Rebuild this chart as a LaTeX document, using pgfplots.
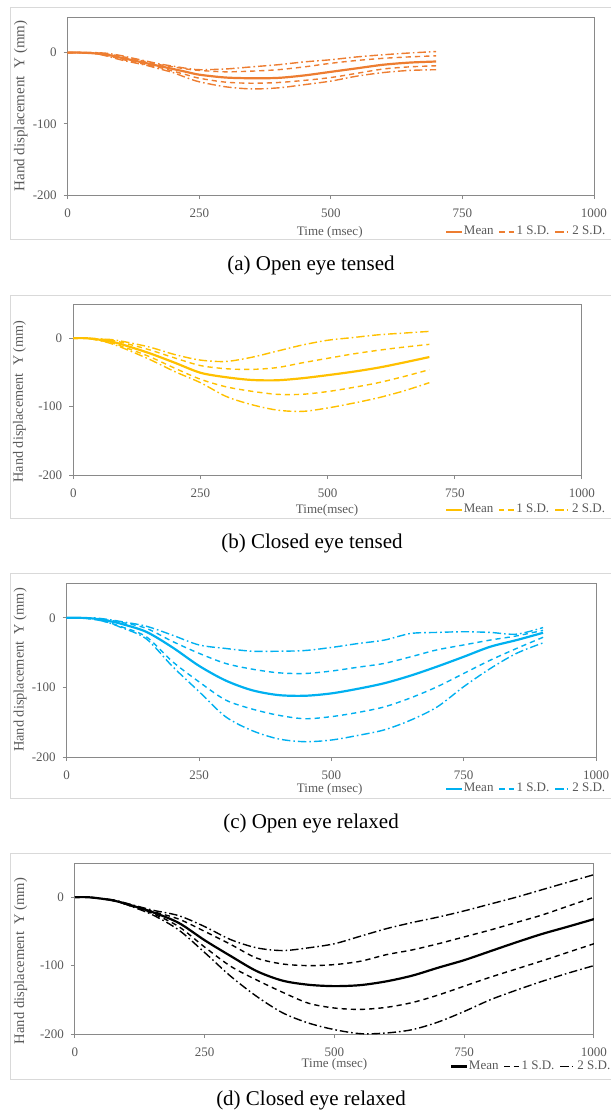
\documentclass[border=0pt]{standalone}
\usepackage{fontspec}
\setmainfont{Liberation Serif}
\usepackage{pgfplots}
\pgfplotsset{compat=1.18}
\usepackage{pgfplotstable}
\definecolor{axgray}{HTML}{898989}
\definecolor{txtgray}{HTML}{595959}
\definecolor{boxgray}{HTML}{D9D9D9}
\definecolor{corange}{HTML}{ED7D31}
\definecolor{cyellow}{HTML}{FFC000}
\definecolor{cblue}{HTML}{00B0F0}

\pgfplotstableread{
t m p1 p2 n1 n2
0 0 0 0 0 0
25 0 0 0 0 0
50 -1 0 0 -1 -1
75 -3 -2 -1 -4 -5
100 -7 -5 -4 -9 -10
125 -11 -9 -8 -13 -14
150 -15 -13 -12 -17 -18
175 -19 -17 -16 -21 -23
200 -23 -20 -19 -26 -28
225 -27 -23 -22 -31 -35
250 -31 -25 -24 -36 -41
300 -35 -27 -23 -41.5 -48
350 -36 -26 -20 -43 -51
400 -35.5 -24 -17 -42 -49.5
450 -32 -20 -13 -39 -45
500 -27 -15 -10 -35 -40
550 -22 -11 -6 -29 -33
600 -17 -8 -3 -23 -28
650 -14 -6 -0.5 -20 -25
700 -12.5 -4.5 1.5 -18.5 -24
}\dA

\pgfplotstableread{
t m p1 p2 n1 n2
0 0 0 0 0 0
25 0 0 0 0 0
50 -2 -1 -1 -3 -3
75 -5 -3 -2 -7 -8
100 -10 -7 -5 -13 -15
150 -22 -17 -13 -27 -31
200 -36 -29 -24 -44 -49
250 -50.5 -40 -32 -60 -65
300 -57 -44.6 -34 -71 -85
350 -61 -45.6 -28 -77.5 -97
400 -61.5 -43 -19 -82 -105
450 -58.5 -36 -10 -82 -107
500 -54 -29.4 -3 -78 -102
550 -49 -23 1 -72 -95
600 -43 -17.6 5 -65 -87
650 -35.5 -13 7.5 -56 -77
700 -27.5 -9 10 -46 -65
}\dB

\pgfplotstableread{
t m p1 p2 n1 n2
0 0 0 0 0 0
25 0 0 0 0 0
50 -1 -1 0 -2 -2
75 -4 -3 -2 -6 -6
100 -8 -6 -5 -12 -13
150 -20 -15 -12 -27 -30
200 -42.6 -34 -25 -63 -70
250 -69 -51 -39 -92 -106
300 -90 -65.5 -44 -118 -142
350 -104 -73.7 -48 -131 -162
400 -111 -79 -48 -140 -174
450 -112 -80 -47 -145 -178
500 -108.6 -76.5 -42.6 -142 -175.6
550 -102 -71 -37 -136 -169
600 -94 -65.5 -32 -128 -161
650 -83 -56 -22.5 -115 -147
700 -70 -46 -21 -99 -128
750 -56 -39 -20 -80 -99
800 -41.6 -32 -21 -61 -73
850 -32 -26 -23.5 -44 -51
900 -21.5 -18 -14 -28 -36
}\dC

\pgfplotstableread{
t m p1 p2 n1 n2
0 0 0 0 0 0
25 0 0 0 0 0
50 -2 -2 -2 -2 -2
75 -5 -5 -4 -5 -5
100 -10 -10 -9 -11 -11
150 -22 -21 -19 -24 -26
200 -37.6 -32 -27 -43 -48
250 -63 -50 -43 -73 -81
300 -86 -69 -62 -101 -115.6
350 -108 -89 -74 -121 -145
400 -122 -97.6 -78 -139 -169
450 -128 -100 -74 -155 -184
500 -130 -98.5 -68 -162 -193.6
550 -128.5 -93.6 -57 -164 -199.5
600 -123 -84 -46 -161 -198.5
650 -114.6 -77 -37 -154 -193.6
700 -103 -68 -29 -143 -182.4
750 -92 -58 -20 -130 -167
800 -79 -48 -10 -117 -150
850 -66 -37 0 -105 -136
900 -53.7 -26 11 -93 -123
950 -43 -13 22 -80.5 -111
1000 -32 0 33 -68 -100
}\dD

\pgfplotsset{
  panel/.style={
    scale only axis,
    xmin=0, xmax=1000, ymin=-200, ymax=50,
    xtick={0,250,500,750,1000}, ytick={-200,-100,0},
    axis line style={axgray, line width=0.5pt},
    tick style={axgray, line width=0.5pt},
    tick align=outside, major tick length=2pt,
    xtick pos=bottom, ytick pos=left,
    /pgf/number format/assume math mode=true,
    /pgf/number format/1000 sep={},
    tick label style={font=\fontsize{6.5}{7.5}\selectfont, text=txtgray},
    xticklabel style={yshift=-1.3pt},
    label style={font=\fontsize{7.5}{8}\selectfont, text=txtgray},
    xlabel style={font=\fontsize{6.5}{7.5}\selectfont, text=txtgray, anchor=center},
    ylabel style={anchor=center},
    legend columns=3,
    legend style={draw=none, fill=none, anchor=east, inner sep=0pt, outer sep=0pt,
      font=\fontsize{6.5}{7.5}\selectfont, text=txtgray,
      nodes={inner sep=0.4pt},
      /tikz/every even column/.append style={column sep=2.2pt}},
    legend image code/.code={\draw[##1] (0pt,0pt) -- (7.8pt,0pt);},
    ylabel={Hand displacement \ Y (mm)},
  },
  meanst/.style={line width=1.1pt},
  sdone/.style={line width=0.7pt, dash pattern=on 2.6pt off 2pt},
  sdtwo/.style={line width=0.7pt, dash pattern=on 4.2pt off 1.5pt on 0.8pt off 1.5pt},
}

\newcommand{\fivelines}[2]{%
  \addplot[#1, meanst, smooth] table[x=t,y=m]{#2}; \addlegendentry{Mean}
  \addplot[#1, sdone, smooth] table[x=t,y=p1]{#2}; \addlegendentry{1 S.D.}
  \addplot[#1, sdtwo, smooth] table[x=t,y=p2]{#2}; \addlegendentry{2 S.D.}
  \addplot[#1, sdone, smooth, forget plot] table[x=t,y=n1]{#2};
  \addplot[#1, sdtwo, smooth, forget plot] table[x=t,y=n2]{#2};
}

\begin{document}
\begin{tikzpicture}
\useasboundingbox (0pt,0pt) rectangle (305.5pt,-558pt);

% panel boxes
\draw[boxgray, line width=0.5pt] (5.35pt,-3.5pt) rectangle (306pt,-119.5pt);
\draw[boxgray, line width=0.5pt] (5pt,-147.5pt) rectangle (306pt,-259pt);
\draw[boxgray, line width=0.5pt] (5pt,-286.5pt) rectangle (306pt,-399pt);
\draw[boxgray, line width=0.5pt] (5pt,-426.5pt) rectangle (306pt,-539.5pt);

% (a)
\begin{axis}[panel, at={(33.85pt,-97.5pt)}, anchor=south west,
  width=263.15pt, height=89pt,
  xlabel={Time (msec)},
  xlabel style={at={(axis description cs:0.498,-0.208)}},
  ylabel style={at={(axis description cs:-0.089,0.5)}},
  legend style={at={(1.023,-0.208)}}]
\fivelines{corange}{\dA}
\end{axis}

% (b)
\begin{axis}[panel, at={(36.65pt,-237.5pt)}, anchor=south west,
  width=254.35pt, height=85.5pt,
  xlabel={Time(msec)},
  xlabel style={at={(axis description cs:0.499,-0.205)}},
  ylabel style={at={(axis description cs:-0.106,0.43)}, font=\fontsize{7.1}{8}\selectfont},
  legend style={at={(1.047,-0.205)}}]
\fivelines{cyellow}{\dB}
\end{axis}

% (c)
\begin{axis}[panel, at={(33.35pt,-378.5pt)}, anchor=south west,
  width=264.65pt, height=87pt,
  xlabel={Time (msec)},
  xlabel style={at={(axis description cs:0.497,-0.184)}},
  ylabel style={at={(axis description cs:-0.088,0.5)}, font=\fontsize{7.2}{8}\selectfont},
  legend style={at={(1.019,-0.184)}}]
\fivelines{cblue}{\dC}
\end{axis}

% (d)
\begin{axis}[panel, at={(37.5pt,-517pt)}, anchor=south west,
  width=259.5pt, height=85.5pt,
  xlabel={Time (msec)},
  xlabel style={at={(axis description cs:0.5,-0.18)}},
  ylabel style={at={(axis description cs:-0.105,0.427)}, font=\fontsize{7.3}{8}\selectfont},
  legend style={at={(1.033,-0.19)}}]
\fivelines{black}{\dD}
\end{axis}

% captions
\node[font=\fontsize{10.5}{12}\selectfont] at (155.5pt,-132.5pt) {(a) Open eye tensed};
\node[font=\fontsize{10.5}{12}\selectfont] at (156pt,-271.5pt) {(b) Closed eye tensed};
\node[font=\fontsize{10.5}{12}\selectfont] at (155.5pt,-411.5pt) {(c) Open eye relaxed};
\node[font=\fontsize{10.5}{12}\selectfont] at (155.5pt,-550pt) {(d) Closed eye relaxed};
\end{tikzpicture}
\end{document}
